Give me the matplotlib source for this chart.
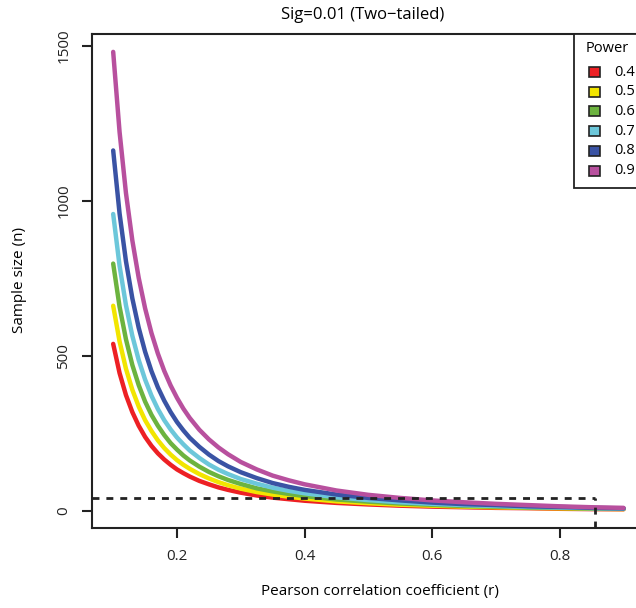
import matplotlib
matplotlib.use('Agg')
import matplotlib.pyplot as plt
from matplotlib.patches import Rectangle

plt.rcParams['font.family'] = ['Open Sans', 'DejaVu Sans']

# correlation values on the x axis
r_vals = [0.10, 0.11, 0.12, 0.13, 0.14, 0.15, 0.16, 0.17, 0.18, 0.19, 0.20,
          0.21, 0.22, 0.235, 0.25, 0.265, 0.28, 0.30, 0.325, 0.35, 0.375,
          0.40, 0.45, 0.50, 0.55, 0.60, 0.65, 0.70, 0.75, 0.80, 0.85, 0.90]

# sample size
n_p40 = [539, 445, 374, 319, 275, 239, 210, 186, 166, 149, 134, 122, 111, 97,
         86, 76, 68, 59, 50, 43, 38, 33, 26, 21, 17, 14, 12, 10, 9, 7, 6, 5.5]
n_p50 = [662, 547, 459, 391, 337, 293, 258, 228, 203, 182, 164, 149, 136, 119,
         105, 93, 83, 72, 61, 53, 46, 40, 31, 25, 20, 17, 14, 12, 10, 8.5, 7, 6]
n_p60 = [798, 659, 554, 471, 406, 353, 310, 275, 245, 219, 198, 179, 163, 143,
         126, 112, 100, 87, 73, 63, 55, 48, 37, 30, 24, 20, 16, 14, 11, 10, 8, 7]
n_p70 = [958, 791, 664, 565, 487, 424, 372, 329, 293, 263, 237, 215, 195, 171,
         150, 133, 119, 103, 88, 75, 65, 57, 44, 35, 28, 23, 19, 16, 13, 11, 9,
         7.4]
n_p80 = [1163, 960, 806, 686, 591, 514, 451, 399, 356, 319, 287, 260, 236, 207,
         182, 161, 144, 125, 106, 90, 78, 68, 53, 42, 34, 27, 22, 19, 15, 13,
         10, 8.4]
n_p90 = [1481, 1223, 1026, 873, 752, 654, 574, 508, 452, 405, 365, 330, 300,
         262, 231, 205, 183, 158, 134, 114, 99, 86, 66, 52, 42, 34, 28, 23, 19,
         15, 12, 10]

power_labels = ['0.4', '0.5', '0.6', '0.7', '0.8', '0.9']
colors = ['#ED2024', '#F2E500', '#6CB33F', '#6CC7DA', '#3A53A4', '#B8509E']

ref_n = 42      # dashed horizontal reference
ref_r = 0.855   # dashed vertical reference

W, H = 636.0, 608.0
fig = plt.figure(figsize=(6.36, 6.08), dpi=100)
ax = fig.add_axes([92 / W, 1 - 527.7 / H, 552 / W, 494.1 / H])

series = [n_p40, n_p50, n_p60, n_p70, n_p80, n_p90]
for vals, col in zip(series, colors):
    ax.plot(r_vals, vals, color=col, lw=3.2, solid_capstyle='round',
            solid_joinstyle='round')

ax.plot([0.0668, ref_r], [ref_n, ref_n], color='#222222', lw=2,
        ls=(0, (2.5, 2.5)))
ax.plot([ref_r, ref_r], [-54, ref_n], color='#222222', lw=2,
        ls=(0, (2.5, 2.5)))

ax.set_xlim(0.0668, 0.932)
ax.set_ylim(-54, 1540)
ax.set_xticks([0.2, 0.4, 0.6, 0.8])
ax.set_xticklabels(['0.2', '0.4', '0.6', '0.8'])
ax.set_yticks([0, 500, 1000, 1500])
ax.set_yticklabels(['0', '500', '1000', '1500'], rotation=90, va='center')
ax.tick_params(direction='out', length=7, width=1.5, labelsize=11,
               colors='#222222', pad=8)
for s in ax.spines.values():
    s.set_linewidth(1.5)
    s.set_color('#222222')

fig.text(363 / W, 1 - 15 / H, 'Sig=0.01 (Two\u2212tailed)', fontsize=12,
         ha='center', va='center')
fig.text(380 / W, 1 - 592 / H, 'Pearson correlation coefficient (r)',
         fontsize=11, ha='center', va='center')
fig.text(20 / W, 1 - 280 / H, 'Sample size (n)', fontsize=11,
         ha='center', va='center', rotation=90)

# legend drawn by hand, box runs off the right edge like the original
px = 1 / W
py = 1 / H
lx0, ly_top, ly_bot = 574 * px, 1 - 33.6 * py, 1 - 188 * py
fig.patches.append(Rectangle((lx0, ly_bot), 0.2, ly_top - ly_bot,
                             transform=fig.transFigure, fill=True,
                             facecolor='white', edgecolor='#222222', lw=1.3))
fig.text(586 * px, 1 - 48 * py, 'Power', fontsize=10.5, va='center', ha='left')
for i, (lab, col) in enumerate(zip(power_labels, colors)):
    yc = 1 - (72 + i * 19.7) * py
    fig.patches.append(Rectangle((589 * px, yc - 5 * py), 11 * px, 10 * py,
                                 transform=fig.transFigure, facecolor=col,
                                 edgecolor='#222222', lw=1.2))
    fig.text(614 * px, yc, lab, fontsize=10.5, va='center', ha='left')

fig.savefig('out.png', dpi=100, facecolor='white')
